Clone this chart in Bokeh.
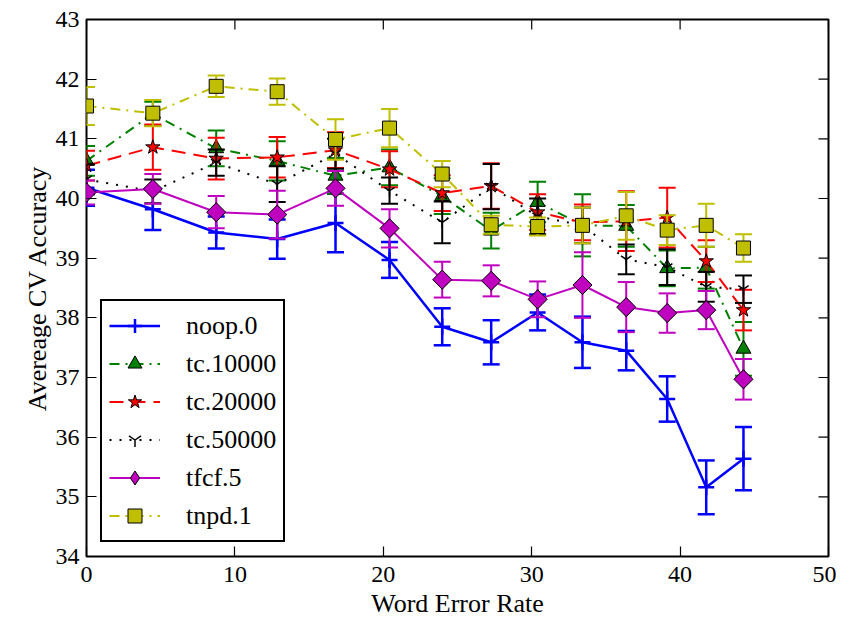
import numpy as np
from bokeh.plotting import figure
from bokeh.models import (ColumnDataSource, Legend, LegendItem,
                          FixedTicker, Range1d)
from bokeh.embed import file_html
from bokeh.resources import INLINE

# ---------------- data ----------------
wer = [0, 4.47, 8.74, 12.85, 16.78, 20.42, 23.97, 27.27, 30.4, 33.42, 36.37, 39.13, 41.76, 44.27]

noop_0 = [40.18, 39.82, 39.43, 39.32, 39.59, 38.97, 37.85, 37.59, 38.09, 37.59, 37.45, 36.64, 35.16, 35.64]
noop_0_err = [0.3, 0.35, 0.27, 0.33, 0.49, 0.3, 0.31, 0.37, 0.3, 0.43, 0.33, 0.38, 0.45, 0.53]

tc_10000 = [40.63, 41.42, 40.84, 40.63, 40.38, 40.52, 40.04, 39.46, 39.94, 39.55, 39.54, 38.83, 38.84, 37.48]
tc_10000_err = [0.25, 0.2, 0.3, 0.33, 0.3, 0.3, 0.3, 0.3, 0.34, 0.52, 0.35, 0.3, 0.35, 0.45]

tc_20000 = [40.55, 40.86, 40.67, 40.69, 40.81, 40.49, 40.09, 40.21, 39.77, 39.6, 39.62, 39.68, 38.95, 38.13]
tc_20000_err = [0.25, 0.38, 0.35, 0.34, 0.3, 0.3, 0.3, 0.38, 0.3, 0.3, 0.5, 0.5, 0.35, 0.34]

tc_50000 = [40.32, 40.12, 40.6, 40.24, 40.75, 40.13, 39.6, 40.2, 39.7, 39.55, 38.98, 38.85, 38.52, 38.48]
tc_50000_err = [0.25, 0.2, 0.22, 0.3, 0.25, 0.22, 0.35, 0.38, 0.3, 0.3, 0.25, 0.3, 0.25, 0.23]

tfcf_5 = [40.1, 40.16, 39.77, 39.73, 40.17, 39.5, 38.64, 38.62, 38.31, 38.55, 38.18, 38.08, 38.13, 36.97]
tfcf_5_err = [0.2, 0.25, 0.27, 0.4, 0.29, 0.32, 0.3, 0.26, 0.3, 0.55, 0.42, 0.33, 0.32, 0.34]

tnpd_1 = [41.55, 41.43, 41.88, 41.79, 40.99, 41.18, 40.41, 39.56, 39.53, 39.55, 39.71, 39.47, 39.55, 39.17]
tnpd_1_err = [0.32, 0.22, 0.18, 0.22, 0.34, 0.32, 0.22, 0.15, 0.15, 0.3, 0.4, 0.25, 0.36, 0.23]

x_ticks = [0, 10, 20, 30, 40, 50]
y_ticks = [34, 35, 36, 37, 38, 39, 40, 41, 42, 43]
x_min, x_max = 0, 50
y_min, y_max = 34, 43

FONT = "Liberation Serif"

p = figure(frame_width=742, frame_height=537, output_backend="svg",
           toolbar_location=None,
           x_range=Range1d(x_min, x_max), y_range=Range1d(y_min, y_max),
           min_border_left=86, min_border_right=8, min_border_top=19,
           min_border_bottom=50)
p.background_fill_color = "white"
p.border_fill_color = "white"
p.grid.visible = False
p.outline_line_color = "black"
p.outline_line_width = 2

for ax, ticks in ((p.below[0], x_ticks), (p.left[0], y_ticks)):
    ax.ticker = FixedTicker(ticks=ticks)
    ax.major_tick_in = 10
    ax.major_tick_out = 0
    ax.minor_tick_line_color = None
    ax.major_tick_line_color = "black"
    ax.major_tick_line_width = 1.2
    ax.axis_line_color = None
    ax.major_label_text_font = FONT
    ax.major_label_text_font_size = "24px"
    ax.major_label_text_color = "black"
    ax.axis_label_text_font = FONT
    ax.axis_label_text_font_size = "26px"
    ax.axis_label_text_font_style = "normal"
    ax.axis_label_text_color = "black"

p.below[0].axis_label = "Word Error Rate"
p.left[0].axis_label = "Avereage CV Accuracy"
p.below[0].major_label_standoff = 10
p.below[0].axis_label_standoff = 4
p.left[0].major_label_standoff = 7
p.left[0].axis_label_standoff = 1

# inward tick marks on the top and right edges (half of each dash is clipped)
p.scatter(x=x_ticks, y=[y_max] * len(x_ticks), marker="dash", size=20,
          angle=np.pi / 2, line_color="black", line_width=1.2)
p.scatter(x=[x_max] * len(y_ticks), y=y_ticks, marker="dash", size=20,
          line_color="black", line_width=1.2)

series = [
    ("noop.0", noop_0, noop_0_err, "#0000ff", "solid", "cross"),
    ("tc.10000", tc_10000, tc_10000_err, "#008000", "10 6 2 6", "triangle"),
    ("tc.20000", tc_20000, tc_20000_err, "#ff0000", "14 8", "star"),
    ("tc.50000", tc_50000, tc_50000_err, "#000000", "2 8", "y"),
    ("tfcf.5", tfcf_5, tfcf_5_err, "#bf00bf", "solid", "diamond"),
    ("tnpd.1", tnpd_1, tnpd_1_err, "#bfbf00", "10 6 2 6", "square"),
]

items = []
for name, vals, errs, color, dash, marker in series:
    v = np.array(vals)
    e = np.array(errs)
    src = ColumnDataSource(dict(x=wer, y=vals, lo=list(v - e), hi=list(v + e)))
    lw = 2.5 if name == "noop.0" else 2
    line = p.line("x", "y", source=src, line_color=color, line_width=lw,
                  line_dash=dash)
    p.segment(x0="x", y0="lo", x1="x", y1="hi", source=src,
              line_color=color, line_width=lw)
    p.scatter("x", "hi", source=src, marker="dash", size=17,
              line_color=color, line_width=lw)
    p.scatter("x", "lo", source=src, marker="dash", size=17,
              line_color=color, line_width=lw)
    rends = [line]
    if marker == "cross":
        mk = p.scatter("x", "y", source=src, marker="cross", size=16,
                       line_color=color, line_width=lw)
        rends.append(mk)
    elif marker == "y":
        mk = p.scatter("x", "y", source=src, marker="y", size=12,
                       line_color=color, line_width=1.5)
        rends.append(mk)
    elif marker == "diamond":
        # diamond used for the legend; it sits fully under the rotated square
        proxy = p.scatter("x", "y", source=src, marker="diamond", size=19,
                          fill_color=color, line_color="black", line_width=1)
        p.scatter("x", "y", source=src, marker="square", size=13.5,
                  angle=np.pi / 4, fill_color=color,
                  line_color="black", line_width=1)
        rends.append(proxy)
    elif marker == "triangle":
        mk = p.scatter("x", "y", source=src, marker="triangle", size=15,
                       fill_color=color, line_color="black", line_width=1)
        rends.append(mk)
    elif marker == "star":
        mk = p.scatter("x", "y", source=src, marker="star", size=15,
                       fill_color=color, line_color="black", line_width=1)
        rends.append(mk)
    else:
        mk = p.scatter("x", "y", source=src, marker="square", size=14,
                       fill_color=color, line_color="black", line_width=1)
        rends.append(mk)
    items.append(LegendItem(label=name, renderers=rends))

legend = Legend(items=items, location=(14, 14),
                label_text_font=FONT, label_text_font_size="26px",
                label_text_color="black",
                glyph_width=51, glyph_height=35, label_standoff=26,
                label_height=28, spacing=3, padding=7, margin=0,
                border_line_color="black", border_line_width=2,
                border_line_alpha=1.0,
                background_fill_color="white", background_fill_alpha=1)
p.add_layout(legend)

open("out.html", "w").write(file_html(p, INLINE))
